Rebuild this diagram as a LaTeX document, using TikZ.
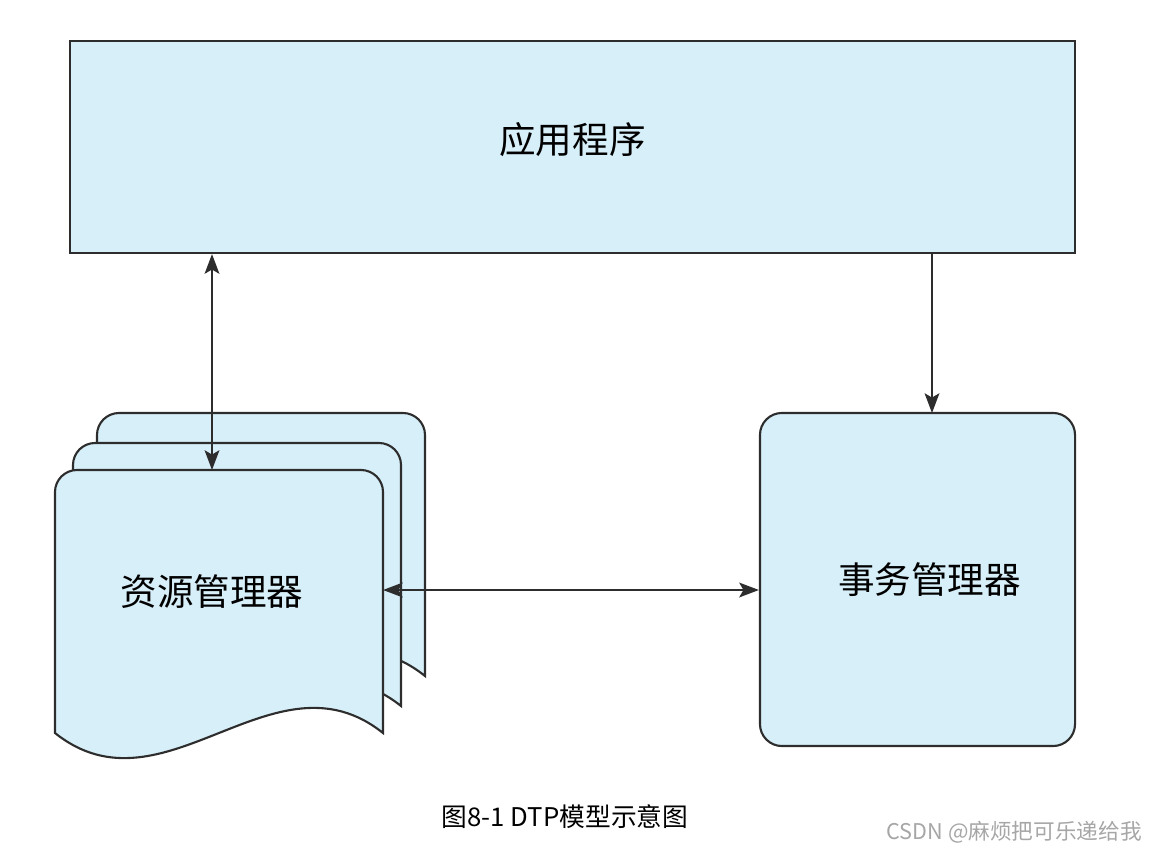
\documentclass[tikz,border=0pt]{standalone}
\usepackage{fontspec}
\newfontfamily\cjk{Noto Sans CJK SC}
\usetikzlibrary{arrows.meta}
\definecolor{boxblue}{RGB}{215,239,248}
\definecolor{edge}{RGB}{45,45,45}
\tikzset{
  box/.style={draw=edge, fill=boxblue, line width=1.5pt},
  boxtext/.style={font=\cjk\fontsize{26}{30}\selectfont},
  doc/.style={draw=edge, fill=boxblue, line width=1.5pt},
  link/.style={draw=edge, line width=1.3pt}
}
\begin{document}
\begin{tikzpicture}[x=0.025cm,y=-0.025cm,>={Stealth[length=14pt,width=10.5pt,inset=3pt]}]
\useasboundingbox (0,0) rectangle (1157,854);
\node[box, minimum width=25.125cm, minimum height=5.3cm,
      label={[boxtext, yshift=0.18cm]center:应用程序}] (app) at (572.5,147) {};

% stack of resource managers, back to front
\foreach \dx/\dy in {42/-57, 18/-27, 0/0}
{
    \draw[doc, shift={(\dx,\dy)}] (55,733) [rounded corners=0.55cm] -- (55,470) -- (383,470)
        [sharp corners] -- (383,733) .. controls (274,646) and (164,820) .. (55,733) -- cycle;
}
\node[boxtext] (rm) at (212,592) {资源管理器};

\node[box, rounded corners=0.55cm, minimum width=7.875cm, minimum height=8.325cm,
      label={[boxtext, xshift=0.3cm]center:事务管理器}] (tm) at (917.5,579.5) {};

\coordinate (rmtop) at (212,470);
\coordinate (rmright) at (383,590);
\coordinate (tmtop) at (932,413);
\draw[link,<->] (app.south -| rmtop) -- (rmtop);
\draw[link,->] (app.south -| tmtop) -- (tmtop);
\draw[link,<->] (rmright) -- (tm.west |- rmright);

\node[font=\cjk\fontsize{18.3}{22}\selectfont] (cap) at (565,817) {图8-1 DTP模型示意图};
\node[anchor=east, inner sep=0pt, text=gray!70, font=\cjk\fontsize{15.4}{18}\selectfont] (mark) at (1142,832) {CSDN @麻烦把可乐递给我};
\end{tikzpicture}
\end{document}
